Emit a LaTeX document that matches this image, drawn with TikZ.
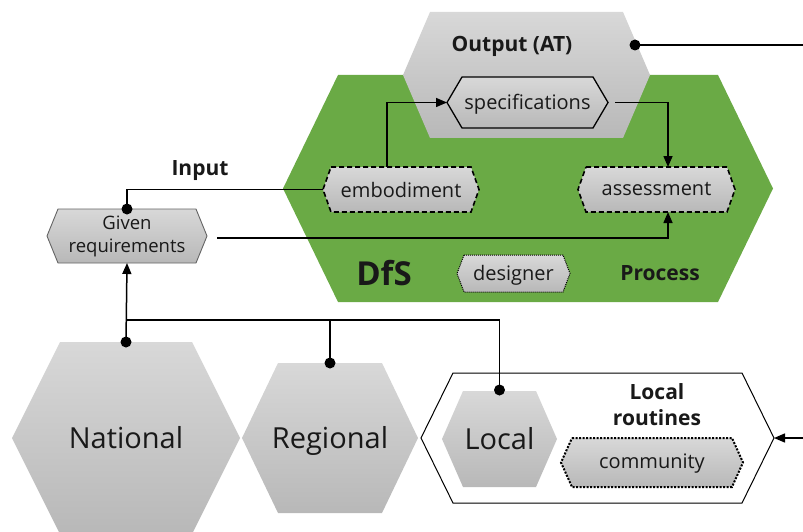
\documentclass[tikz,border=0pt]{standalone}
\usepackage{fontspec}
\setmainfont{Open Sans}
\usetikzlibrary{arrows.meta}

\definecolor{dfsgreen}{RGB}{106,170,69}
\definecolor{hexlight}{RGB}{216,216,216}
\definecolor{hexdark}{RGB}{184,184,184}
\definecolor{rimgrey}{RGB}{100,100,100}
\definecolor{ink}{RGB}{25,25,25}

% hexagon: a rectangular node gives the anchors, the outline is drawn over it
% #1 name, #2 centre, #3 width, #4 height, #5 corner inset, #6 style
\newcommand\hexnode[6]{%
  \node[minimum width=#3pt, minimum height=#4pt, inner sep=0pt, outer sep=0pt] (#1) at (#2) {};
  \path[#6] ([xshift=#5pt]#1.north west) -- ([xshift=-#5pt]#1.north east) -- (#1.east)
    -- ([xshift=-#5pt]#1.south east) -- ([xshift=#5pt]#1.south west) -- (#1.west) -- cycle;
}

\tikzset{
  greyhex/.style={top color=hexlight, bottom color=hexdark},
  greenhex/.style={fill=dfsgreen},
  solidhex/.style={greyhex, draw=black, line width=1.3pt, line join=miter},
  dashhex/.style={greyhex, draw=black, line width=1.6pt, dash pattern=on 5pt off 3pt},
  finedothex/.style={greyhex, draw=black, line width=1pt, dash pattern=on 1pt off 1pt},
  dothex/.style={greyhex, draw=black, line width=2pt, dash pattern=on 2pt off 1.5pt},
  framehex/.style={fill=white, draw=black, line width=1pt},
  reqhex/.style={greyhex, draw=rimgrey, line width=0.9pt},
  conn/.style={draw=black, line width=1.5pt},
  arr/.style={conn, -{Triangle[length=11pt,width=9pt]}},
  dot/.style={fill=black},
  txt/.style={inner sep=0pt, text=ink, font=\fontsize{20}{24}\selectfont},
  bigtxt/.style={inner sep=0pt, text=ink, font=\fontsize{29}{34}\selectfont},
  lbl/.style={inner sep=0pt, text=ink, font=\bfseries\fontsize{21}{26}\selectfont, align=center},
}

\begin{document}
\begin{tikzpicture}[x=1pt, y=-1pt]
\useasboundingbox (0,0) rectangle (803,532);

% design process and its output
\hexnode{dfs}{528,188.5}{490}{227}{55}{greenhex}
\hexnode{out}{526.5,75}{247}{126}{27}{greyhex}
\hexnode{spec}{527.5,102.5}{161}{51}{15}{solidhex}
\hexnode{emb}{401,189.5}{156}{45}{8}{dashhex}
\hexnode{assess}{656.5,189.5}{157}{45}{8}{dashhex}
\hexnode{designer}{513.5,273.5}{113}{37}{7}{finedothex}
\hexnode{given}{127,236}{160}{54}{11}{reqhex}

% levels of governance
\hexnode{nat}{126,438}{228}{192}{48}{greyhex}
\hexnode{reg}{330,438}{176}{150}{36}{greyhex}
\hexnode{routines}{597.5,438}{353}{130}{32}{framehex}
\hexnode{loc}{499.5,439}{115}{96}{21}{greyhex}
\hexnode{comm}{652,462.5}{182}{49}{11}{dothex}

% texts
\node[lbl] (outT) at (512,46.5) {Output (AT)};
\node[txt, yshift=-2pt] (specT) at (spec) {specifications};
\node[txt] (embT) at (emb) {embodiment};
\node[txt] (assessT) at (assess) {assessment};
\node[txt, yshift=-1.5pt] (designerT) at (designer) {designer};
\node[inner sep=0pt, align=center, text=ink, font=\fontsize{18.5}{23}\selectfont] (givenT) at (given) {Given\\requirements};
\node[lbl] (inputT) at (200,171) {Input};
\node[inner sep=0pt, text=ink, font=\bfseries\fontsize{33}{38}\selectfont] (dfsT) at (384,273) {DfS};
\node[lbl] (processT) at (660,273) {Process};
\node[bigtxt] (natT) at (nat) {National};
\node[bigtxt, yshift=-3pt] (regT) at (reg) {Regional};
\node[bigtxt] (locT) at (loc) {Local};
\node[lbl] (routT) at (657,405) {Local\\routines};
\node[txt, yshift=-1pt] (commT) at (comm) {community};

% connector end points
\coordinate (outdot) at (635,45);
\coordinate (outend) at (803,45);
\coordinate (bus) at (127,320);
\coordinate (inright) at (803,438);

% connectors
\draw[conn] (outdot) -- (outend);
\fill[dot] (outdot) circle[radius=5.5];

\draw[arr] ([xshift=-14pt]emb.north) |- (spec.west);
\draw[arr] ([xshift=7pt]spec.east) -| ([xshift=11.5pt]assess.north);

\draw[conn] (given.north) |- (emb.west);
\fill[dot] (given.north) circle[radius=5.5];

\draw[arr] ([xshift=10pt,yshift=-2pt]given.east) -| ([xshift=11.5pt]assess.south);

\draw[arr] (nat.north) -- (given.south);
\fill[dot] (nat.north) circle[radius=5.5];
\draw[conn] (reg.north) -- (reg.north |- bus);
\fill[dot] (reg.north) circle[radius=5.5];
\draw[conn] ([yshift=1pt]loc.north) |- (bus);
\fill[dot] ([yshift=1pt]loc.north) circle[radius=5.5];

\draw[arr] (inright) -- (routines.east);
\end{tikzpicture}
\end{document}
